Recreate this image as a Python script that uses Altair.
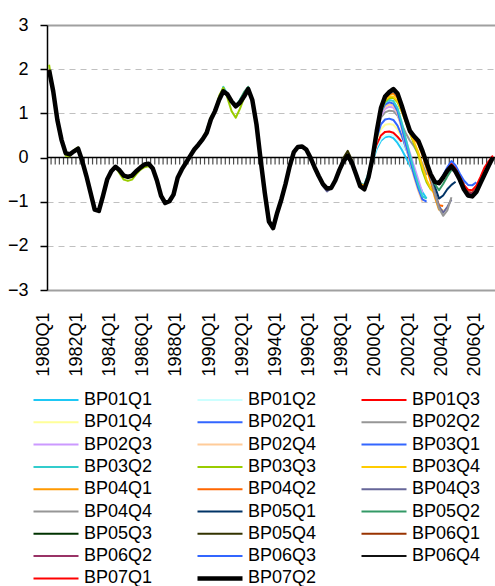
import altair as alt
import pandas as pd

# ---------------- categories ----------------
years = list(range(1980, 2007))
quarters = [f"{y}Q{q}" for y in years for q in (1, 2, 3, 4)]  # 1980Q1 .. 2006Q4
label_quarters = ["1980Q1", "1982Q1", "1984Q1", "1986Q1", "1988Q1", "1990Q1", "1992Q1",
                  "1994Q1", "1996Q1", "1998Q1", "2000Q1", "2002Q1", "2004Q1", "2006Q1"]
y_ticks = [-3, -2, -1, 0, 1, 2, 3]

# ---------------- latest estimate (BP07Q2) ----------------
final_values = [
    1.98, 1.5, 0.85, 0.4, 0.1, 0.07, 0.14, 0.2, -0.08, -0.42,
    -0.8, -1.18, -1.21, -0.87, -0.5, -0.31, -0.21, -0.29, -0.41, -0.44,
    -0.41, -0.31, -0.23, -0.16, -0.14, -0.25, -0.52, -0.87, -1.03, -0.99,
    -0.84, -0.46, -0.27, -0.12, 0.03, 0.18, 0.29, 0.41, 0.56, 0.86,
    1.05, 1.31, 1.5, 1.43, 1.27, 1.16, 1.24, 1.38, 1.55, 1.3,
    0.75, -0.05, -0.8, -1.45, -1.6, -1.25, -0.95, -0.6, -0.2, 0.12,
    0.24, 0.25, 0.18, 0.0, -0.22, -0.42, -0.6, -0.7, -0.69, -0.52,
    -0.28, -0.08, 0.04, -0.12, -0.38, -0.65, -0.72, -0.45, 0.0, 0.6,
    1.12, 1.38, 1.48, 1.55, 1.45, 1.18, 0.88, 0.6, 0.48, 0.38,
    0.15, -0.12, -0.38, -0.55, -0.58, -0.45, -0.3, -0.2, -0.32, -0.5,
    -0.72, -0.86, -0.88, -0.78, -0.58, -0.38, -0.18, 0.0,
]
assert len(final_values) == len(quarters)

series_names = ["BP01Q1", "BP01Q2", "BP01Q3", "BP01Q4", "BP02Q1", "BP02Q2", "BP02Q3",
                "BP02Q4", "BP03Q1", "BP03Q2", "BP03Q3", "BP03Q4", "BP04Q1", "BP04Q2",
                "BP04Q3", "BP04Q4", "BP05Q1", "BP05Q2", "BP05Q3", "BP05Q4", "BP06Q1",
                "BP06Q2", "BP06Q3", "BP06Q4", "BP07Q1", "BP07Q2"]
series_colors = ["#1EC8F5", "#CCFFFF", "#FF0000", "#FFFF99", "#3366FF", "#969696", "#CC99FF",
                 "#FFCC99", "#3366FF", "#33CCCC", "#99CC00", "#FFCC00", "#FF9900", "#FF6600",
                 "#666699", "#969696", "#003366", "#339966", "#003300", "#333300", "#993300",
                 "#993366", "#3366FF", "#111111", "#FF0000", "#000000"]
series_widths = [2] * 25 + [4.5]

# Each vintage: quarter index where it departs from the latest estimate, and its own values
# from there to its last quarter.
vintage_tails = {
    "BP01Q1": (78, [-0.08, 0.2, 0.38, 0.46, 0.48, 0.44, 0.33, 0.18, 0.0, -0.18, -0.38, -0.58, -0.78, -0.93]),
    "BP01Q2": (78, [-0.05, 0.25, 0.42, 0.5, 0.52, 0.5, 0.42, 0.3, 0.15]),
    "BP01Q3": (78, [0.03, 0.3, 0.5, 0.58, 0.59, 0.56, 0.47, 0.36]),
    "BP01Q4": (78, [0.0, 0.4, 0.64, 0.74, 0.76, 0.74, 0.64, 0.46, 0.26, 0.06]),
    "BP02Q1": (78, [0.0, 0.45, 0.75, 0.86, 0.88, 0.85, 0.72, 0.5, 0.22, -0.05, -0.32, -0.62, -0.98]),
    "BP02Q2": (78, [0.05, 0.55, 0.9, 1.02, 1.06, 1.05, 0.95, 0.75, 0.55, 0.38, 0.25, 0.08, -0.15, -0.4]),
    "BP02Q3": (78, [0.05, 0.6, 0.95, 1.1, 1.15, 1.13, 1.0, 0.7, 0.4, 0.1, -0.2, -0.5, -0.8]),
    "BP02Q4": (78, [0.05, 0.62, 1.0, 1.15, 1.2, 1.18, 1.0, 0.65, 0.25, -0.1, -0.45, -0.75, -1.0]),
    "BP03Q1": (78, [0.05, 0.62, 1.02, 1.2, 1.25, 1.22, 1.05, 0.7, 0.3, -0.05, -0.4, -0.7, -0.95, -1.0]),
    "BP03Q2": (78, [0.05, 0.63, 1.05, 1.25, 1.3, 1.28, 1.12, 0.8, 0.42, 0.05, -0.3, -0.62, -0.88, -0.93]),
    "BP03Q3": (78, [0.05, 0.6, 1.05, 1.27, 1.35, 1.35, 1.25, 1.05, 0.82, 0.55, 0.3, 0.06, -0.3, -0.56, -0.72, -0.8]),
    "BP03Q4": (78, [0.05, 0.62, 1.08, 1.3, 1.38, 1.38, 1.28, 1.05, 0.8, 0.55, 0.35, 0.12, -0.2, -0.5, -0.7, -0.82]),
    "BP04Q1": (78, [0.02, 0.6, 1.1, 1.33, 1.42, 1.45, 1.36, 1.1, 0.82, 0.57, 0.42, 0.3, 0.05, -0.25, -0.55, -0.9, -1.18, -1.2]),
    "BP04Q2": (78, [0.02, 0.6, 1.1, 1.35, 1.44, 1.48, 1.38, 1.12, 0.84, 0.58, 0.44, 0.32, 0.08, -0.2, -0.5, -0.82, -1.08, -1.1]),
    "BP04Q3": (78, [0.0, 0.6, 1.1, 1.36, 1.45, 1.5, 1.4, 1.14, 0.85, 0.58, 0.45, 0.35, 0.12, -0.15, -0.45, -0.8, -1.1, -1.25, -1.12, -0.95]),
    "BP04Q4": (78, [0.0, 0.6, 1.1, 1.36, 1.46, 1.5, 1.42, 1.15, 0.86, 0.58, 0.46, 0.36, 0.12, -0.15, -0.45, -0.82, -1.15, -1.32, -1.2, -0.9]),
    "BP05Q1": (90, [0.15, -0.12, -0.38, -0.65, -0.93, -0.86, -0.72, -0.62, -0.55]),
    "BP05Q2": (91, [-0.12, -0.38, -0.6, -0.74, -0.6, -0.43, -0.28]),
    "BP05Q3": (92, [-0.38, -0.55, -0.6, -0.46, -0.28, -0.15, -0.25, -0.42, -0.6]),
    "BP05Q4": (92, [-0.38, -0.55, -0.58, -0.45, -0.28, -0.16, -0.27, -0.45, -0.64, -0.75]),
    "BP06Q1": (94, [-0.58, -0.44, -0.28, -0.15, -0.26, -0.45, -0.65, -0.78, -0.8, -0.7]),
    "BP06Q2": (94, [-0.58, -0.44, -0.28, -0.16, -0.28, -0.47, -0.68, -0.8, -0.82, -0.72, -0.52]),
    "BP06Q3": (94, [-0.55, -0.4, -0.22, -0.08, -0.18, -0.36, -0.52, -0.62, -0.63, -0.56]),
    "BP06Q4": (96, [-0.3, -0.2, -0.32, -0.5, -0.7, -0.84, -0.86, -0.76, -0.56, -0.36]),
    "BP07Q1": (96, [-0.28, -0.15, -0.26, -0.44, -0.62, -0.73, -0.74, -0.64, -0.44, -0.22, -0.08, 0.04]),
    "BP07Q2": (108, []),
}

# Earlier-history revisions visible in the picture (quarter index -> value)
vintage_revisions = {
    "BP03Q3": {0: 2.1, 4: 0.04, 5: 0.03, 6: 0.17, 7: 0.23, 17: -0.36, 18: -0.5, 19: -0.53,
               20: -0.5, 21: -0.38, 22: -0.28, 23: -0.22, 24: -0.2, 28: -1.0, 38: 0.62,
               39: 0.92, 41: 1.4, 42: 1.58, 43: 1.35, 44: 1.05, 45: 0.9, 46: 1.1, 47: 1.35},
    "BP03Q2": {42: 1.6, 46: 1.3, 47: 1.45, 75: -0.58, 76: -0.62, 77: -0.35},
    "BP05Q2": {46: 1.3, 47: 1.48, 48: 1.6},
    "BP05Q4": {71: 0.0, 72: 0.15, 73: -0.05},
    "BP04Q3": {66: -0.65, 67: -0.77},
    "BP04Q1": {75: -0.6, 76: -0.64},
}

rows = []
for name in series_names:
    start, tail = vintage_tails[name]
    vals = list(final_values[:start]) + list(tail)
    for i, v in vintage_revisions.get(name, {}).items():
        vals[i] = v
    for i, v in enumerate(vals):
        rows.append({"series": name, "period": quarters[i], "value": v})
df = pd.DataFrame(rows)
df_thin = df[df["series"] != "BP07Q2"]
df_thick = df[df["series"] == "BP07Q2"]

FONT = "Liberation Sans"
FS = 18

legend = alt.Legend(
    title=None, orient="none", legendX=-16, legendY=364, columns=3, direction="horizontal",
    symbolType="stroke", symbolSize=2025, clipHeight=22, rowPadding=0.3,
    columnPadding=42, labelFontSize=FS, labelOffset=3, labelColor="black",
    labelFont=FONT, padding=0, gridAlign="all",
)

x_enc = alt.X(
    "period:O",
    scale=alt.Scale(type="point", domain=quarters, padding=0.5),
    axis=alt.Axis(values=label_quarters, title=None, labelAngle=270, labelAlign="right",
                  labelBaseline="middle", labelPadding=22, labelOffset=-6, ticks=False,
                  domain=False, grid=False, labelFontSize=FS, labelColor="black",
                  labelFont=FONT),
)
y_enc = alt.Y(
    "value:Q",
    scale=alt.Scale(domain=[-3, 3], nice=False, zero=False),
    axis=alt.Axis(
        values=y_ticks, title=None, tickSize=7, tickColor="black", tickWidth=1.5,
        domainColor="black", domainWidth=1.5, labelPadding=12, labelFontSize=FS,
        labelColor="black", labelFont=FONT, grid=True,
        gridColor={"condition": {"test": "abs(datum.value) == 3", "value": "#A0A0A0"}, "value": "#C0C0C0"},
        gridDash={"condition": {"test": "abs(datum.value) == 3", "value": []}, "value": [6, 5]},
        gridWidth={"condition": {"test": "abs(datum.value) == 3", "value": 2}, "value": 1},
        gridOpacity={"condition": {"test": "datum.value == 0", "value": 0}, "value": 1},
    ),
)
color_enc = alt.Color("series:N", scale=alt.Scale(domain=series_names, range=series_colors), legend=legend)
width_enc = alt.StrokeWidth("series:N", scale=alt.Scale(type="ordinal", domain=series_names, range=series_widths), legend=legend)

zero_line = alt.Chart(pd.DataFrame({"value": [0]})).mark_rule(color="black", strokeWidth=1.5).encode(y=y_enc)
zero_ticks = alt.Chart(pd.DataFrame({"period": quarters})).mark_tick(
    orient="vertical", color="black", size=7, thickness=1.2, yOffset=3.5, xOffset=2
).encode(x=x_enc, y=alt.datum(0))

thin = alt.Chart(df_thin).mark_line(strokeJoin="round").encode(
    x=x_enc, y=y_enc, color=color_enc, strokeWidth=width_enc, detail="series:N")
thick = alt.Chart(df_thick).mark_line(strokeJoin="round").encode(
    x=x_enc, y=y_enc, color=color_enc, strokeWidth=width_enc)

chart = alt.layer(zero_line, zero_ticks, thin, thick).properties(
    width=448, height=265,
    padding={"left": 47, "top": 25, "right": 0, "bottom": 296},
    autosize=alt.AutoSizeParams(type="none"),
    background="white",
).configure_view(stroke=None).configure(font=FONT)

chart.save("out.html", embed_options={"renderer": "svg", "actions": False})
